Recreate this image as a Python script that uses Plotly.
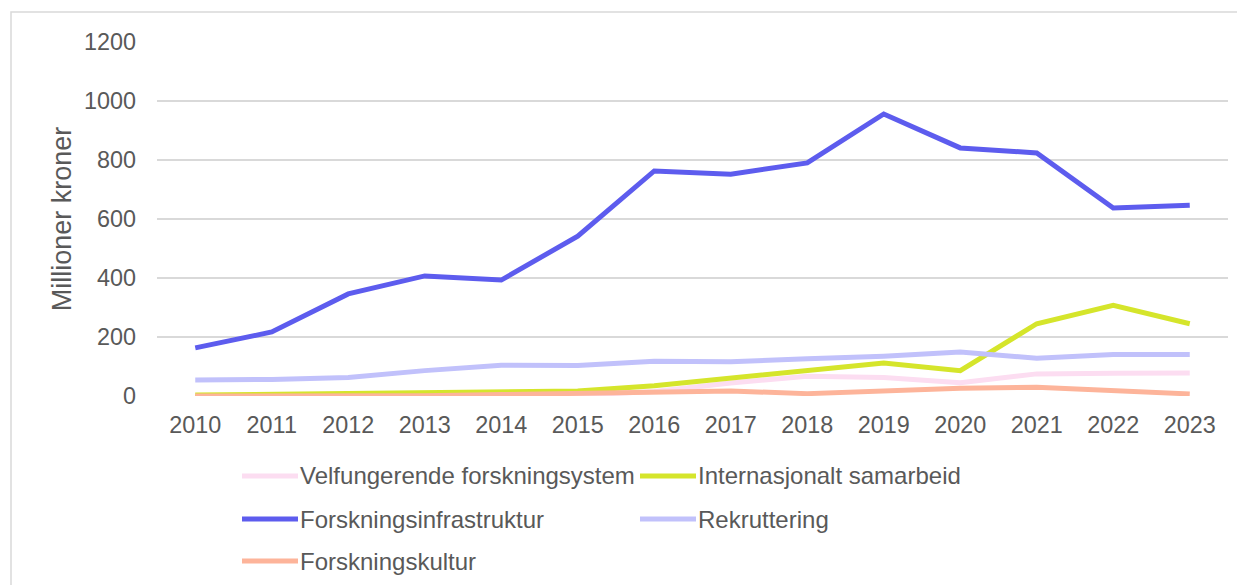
import plotly.graph_objects as go

years = [str(y) for y in range(2010, 2024)]
velfungerende = [0, 0, 0, 0, 2, 3, 15, 44, 67, 63, 45, 75, 77, 78]
internasjonalt = [3, 5, 7, 10, 13, 17, 35, 62, 89, 112, 86, 245, 307, 245]
infrastruktur = [163, 217, 346, 407, 393, 542, 763, 752, 790, 956, 841, 824, 637, 647]
rekruttering = [54, 56, 63, 86, 104, 103, 118, 116, 126, 135, 149, 128, 141, 141]
kultur = [0, 0, 0, 1, 5, 10, 15, 17, 8, 19, 26, 30, 19, 7]

series = [
    ("Velfungerende forskningsystem", velfungerende, "#FCDDF1"),
    ("Internasjonalt samarbeid", internasjonalt, "#D5E52B"),
    ("Forskningsinfrastruktur", infrastruktur, "#5D5CEE"),
    ("Rekruttering", rekruttering, "#C1C1FB"),
    ("Forskningskultur", kultur, "#FDB49A"),
]

font_family = "Liberation Sans, Arial, sans-serif"
gray = "#595959"

OFF = 8  # page body margin
W, H = 1245, 585
# plot area in page pixels: left 157, right 1228, top 42, bottom 396
ml = 157 - OFF
mt = 42 - OFF
mr = W - (1228 - OFF)
mb = H - (396 - OFF)
pw = W - ml - mr
ph = H - mt - mb


def lx(px):
    return (px - OFF - ml) / pw


def ly(py):
    return (H - mb - (py - OFF)) / ph


fig = go.Figure()
for name, vals, color in series:
    fig.add_trace(go.Scatter(
        x=years, y=vals, name=name, mode="lines",
        line=dict(color=color, width=5),
        showlegend=False,
    ))

col_x = [242, 640]
row_y = [476, 519, 561]
shapes = []
annotations = []
for i, (name, vals, color) in enumerate(series):
    cx = col_x[i % 2]
    ry = row_y[i // 2]
    shapes.append(dict(
        type="line", xref="paper", yref="paper",
        x0=lx(cx), x1=lx(cx + 56), y0=ly(ry), y1=ly(ry),
        line=dict(color=color, width=5),
    ))
    annotations.append(dict(
        text=name, xref="paper", yref="paper",
        x=lx(cx + 56), y=ly(ry), xanchor="left", yanchor="middle",
        showarrow=False, font=dict(size=24, color=gray, family=font_family),
    ))

shapes.append(dict(
    type="rect", xref="paper", yref="paper",
    x0=lx(11), x1=lx(1270), y0=ly(620), y1=ly(12),
    line=dict(color="#D9D9D9", width=1.5), fillcolor="rgba(0,0,0,0)",
    layer="below",
))

fig.update_layout(
    width=W, height=H,
    margin=dict(l=ml, r=mr, t=mt, b=mb),
    paper_bgcolor="white", plot_bgcolor="white",
    font=dict(family=font_family, color=gray),
    showlegend=False,
    xaxis=dict(
        type="category", showgrid=False, zeroline=False,
        showline=False, ticks="", automargin=False,
        tickfont=dict(size=23.4, color=gray),
        ticklabelstandoff=13,
        range=[-0.5, len(years) - 0.5],
    ),
    yaxis=dict(
        range=[0, 1200], dtick=200, showgrid=True,
        gridcolor="#D9D9D9", gridwidth=1.5, zeroline=False,
        tickfont=dict(size=23.4, color=gray), ticks="",
        ticklabelstandoff=20, automargin=False,
        title=dict(text="Millioner kroner", font=dict(size=27, color=gray), standoff=4),
    ),
    shapes=shapes,
    annotations=annotations,
)

fig.write_html("out.html")
